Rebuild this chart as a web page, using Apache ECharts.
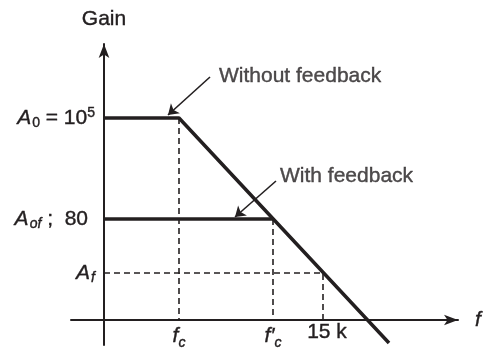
<!DOCTYPE html>
<html>
<head>
<meta charset="utf-8">
<script src="https://cdn.jsdelivr.net/npm/echarts@6/dist/echarts.min.js"></script>
<style>html,body{margin:0;padding:0;background:#fff}#c{width:484px;height:349px}</style>
</head>
<body>
<div id="c"></div>
<script>
// Schematic values (arbitrary linear units, origin at the axes crossing)
const xTickValues = [75, 169, 219];
const xTickLabels = ['{i|f}{xs|c}', '{i|f\u2032}{xs|c}', '{q|}{t|15 k}'];
const yTickValues = [202, 101, 47];
const yTickLabels = ['{i|A}{sub|0}{t| = 10}{sup|5}', '{i|A}{subi|of}{t| ;  80}{p|}', '{i|A}{subi|f}'];
const openLoop = [[0, 202], [75, 202], [285, -23]];
const closedLoop = [[0, 101], [169, 101]];
const dropFc = [[75, 202], [75, 0]];
const dropFcPrime = [[169, 101], [169, 0]];
const level15k = [[0, 47], [219, 47], [219, 0]];
const noteNames = ['Without feedback', 'With feedback'];
const notePos = [[115, 244], [176, 144]];
const arrowFrom = [[106, 243], [172, 139]];
const arrowTo = [[64, 205], [131, 103]];

const INK = '#231f20';
const FONT = 'Liberation Sans, Arial, sans-serif';
const B = {textBorderColor: INK, textBorderWidth: 0.4};
function st(o) { return Object.assign({color: INK, fontFamily: FONT}, B, o); }
const rich = {
  i: st({fontStyle: 'italic', fontSize: 21}),
  t: st({fontSize: 21}),
  p: {fontSize: 21, width: 7},
  q: {fontSize: 21, width: 8},
  sub: st({fontSize: 14, padding: [10, 0, 0, 1]}),
  subi: st({fontSize: 14, fontStyle: 'italic', padding: [10, 0, 0, 1]}),
  xs: st({fontSize: 14, fontStyle: 'italic', padding: [14, 0, 0, 0]}),
  sup: st({fontSize: 14, padding: [0, 0, 10, 0]})
};

const chart = echarts.init(document.getElementById('c'));
const dashed = {color: INK, width: 1.6, type: [6, 4]};
chart.setOption({
  animation: false,
  grid: {left: 71, right: 26, top: 44, bottom: 4, outerBoundsMode: 'none'},
  xAxis: {
    type: 'value', min: -33, max: 354,
    splitLine: {show: false}, axisTick: {show: false},
    axisLine: {onZero: true, lineStyle: {color: INK, width: 2}, symbol: ['none', 'arrow'], symbolSize: [8, 14]},
    name: '{i|f}', nameLocation: 'end', nameGap: 17,
    nameTextStyle: {rich: rich, fontFamily: FONT},
    axisLabel: {
      customValues: xTickValues, margin: -23, color: INK, fontSize: 21, fontFamily: FONT, rich: rich,
      formatter: function (v) { return xTickLabels[xTickValues.indexOf(v)] || ''; }
    }
  },
  yAxis: {
    type: 'value', min: -25, max: 276,
    splitLine: {show: false}, axisTick: {show: false},
    axisLine: {onZero: true, lineStyle: {color: INK, width: 2}, symbol: ['none', 'arrow'], symbolSize: [8, 14]},
    name: 'Gain', nameLocation: 'end', nameGap: 14,
    nameTextStyle: st({fontSize: 21}),
    axisLabel: {
      customValues: yTickValues, margin: -24, color: INK, fontSize: 21, fontFamily: FONT, rich: rich,
      formatter: function (v) { return yTickLabels[yTickValues.indexOf(v)] || ''; }
    }
  },
  series: [
    {type: 'line', data: dropFc, symbol: 'none', lineStyle: dashed, z: 1},
    {type: 'line', data: dropFcPrime, symbol: 'none', lineStyle: dashed, z: 1},
    {type: 'line', data: level15k, symbol: 'none', lineStyle: dashed, z: 1},
    {type: 'line', name: 'Without feedback', data: openLoop, symbol: 'none', lineStyle: {color: INK, width: 3.5}, z: 3},
    {type: 'line', name: 'With feedback', data: closedLoop, symbol: 'none', lineStyle: {color: INK, width: 3.5}, z: 3},
    {
      type: 'lines', coordinateSystem: 'cartesian2d', symbol: ['none', 'arrow'], symbolSize: 10,
      lineStyle: {color: INK, width: 1.6, opacity: 1}, z: 4,
      data: arrowFrom.map(function (p, k) { return {coords: [p, arrowTo[k]]}; })
    },
    {
      type: 'scatter', symbolSize: 0, z: 5,
      data: noteNames.map(function (n, k) { return {name: n, value: notePos[k]}; }),
      label: st({show: true, position: 'right', distance: 0, formatter: '{b}', fontSize: 21})
    }
  ]
});
</script>
</body>
</html>
